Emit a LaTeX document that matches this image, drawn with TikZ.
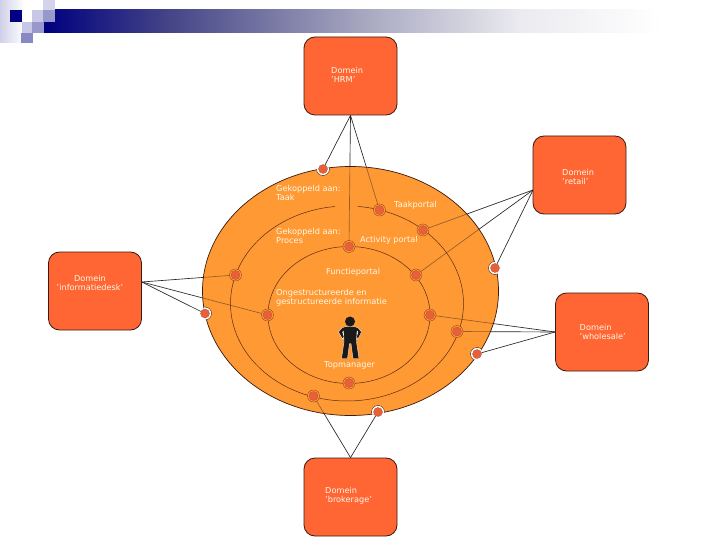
\documentclass[tikz,border=0pt]{standalone}
\usepackage{fontspec}
\setmainfont{DejaVu Sans}
\pgfdeclarelayer{bgl}\pgfdeclarelayer{connl}\pgfdeclarelayer{veill}\pgfdeclarelayer{ringl}
\pgfsetlayers{bgl,connl,veill,ringl,main}
\definecolor{boxred}{HTML}{FF6633}
\definecolor{orangefill}{HTML}{FF9933}
\definecolor{dotred}{HTML}{E8603A}
\definecolor{edgedark}{HTML}{3A1A10}
\definecolor{navyb}{HTML}{000080}
\definecolor{sqA}{HTML}{C8C8E6}
\definecolor{sqB}{HTML}{9898CC}
\definecolor{sqC}{HTML}{8888C4}
\definecolor{txtcream}{HTML}{FFF8E8}
\pgfdeclarehorizontalshading{hdrfade}{100bp}{
  rgb(0bp)=(0,0,0.5); rgb(25bp)=(0,0,0.5);
  rgb(34.3bp)=(0.27,0.27,0.53);
  rgb(48.4bp)=(0.65,0.65,0.75);
  rgb(60.2bp)=(0.92,0.92,0.94);
  rgb(70.6bp)=(1,1,1); rgb(100bp)=(1,1,1)}
\tikzset{
  domainbox/.style={draw=edgedark,line width=0.8pt,fill=boxred,rounded corners=11pt,minimum width=93pt,minimum height=78pt,inner sep=0pt},
  dotnode/.style={circle,fill=dotred,draw=dotred!80!black,line width=0.3pt,minimum size=9pt,inner sep=0pt},
  lbl/.style={text=txtcream,font=\fontsize{8.2}{9}\selectfont,align=left,anchor=north west,inner sep=0pt},
  lblc/.style={lbl,align=center,anchor=north},
  conn/.style={draw=black!85,line width=0.65pt},
  ringline/.style={draw=dotred!60!black,line width=0.35pt},
  orbit/.style={draw=edgedark!85!orangefill,line width=0.5pt}
}
\begin{document}
\begin{tikzpicture}[x=1pt,y=-1pt]
\useasboundingbox (0,0) rectangle (720,540);
% header
\begin{pgfonlayer}{bgl}
\fill[white] (0,0) rectangle (720,540);
\shade[shading=hdrfade] (44,10) rectangle (720,33);
\shade[left color=sqA!85!white,right color=white] (0,0) rectangle (24,43);
\fill[navyb] (10,10) rectangle (22,22);
\fill[sqA!80!white] (43,0) rectangle (55,10);
\fill[sqB] (43,10) rectangle (55,22);
\fill[sqA] (32,10) rectangle (43,22);
\fill[sqA] (22,22) rectangle (32,33);
\fill[sqB] (32,22) rectangle (44,33);
\fill[sqC] (21,33) rectangle (33,43);
% big ellipse
\fill[orangefill] (350.5,291) ellipse [x radius=148,y radius=124.5];
\end{pgfonlayer}
% domain boxes
\node[domainbox] (hrm) at (350.5,76) {};
\node[domainbox] (retail) at (579.5,175) {};
\node[domainbox] (whole) at (602,332) {};
\node[domainbox] (info) at (95,291) {};
\node[domainbox] (brok) at (350.5,497) {};
\coordinate (retailP) at (533,190);
% dots, outer orbit
\node[dotnode] (o1) at (323,169) {};
\node[dotnode] (o2) at (495,268) {};
\node[dotnode] (o3) at (477,354) {};
\node[dotnode] (o4) at (378,412) {};
\node[dotnode] (o5) at (205,313.5) {};
% dots, middle orbit
\node[dotnode] (m1) at (379.5,210) {};
\node[dotnode] (m2) at (423,230) {};
\node[dotnode] (m3) at (457,331.5) {};
\node[dotnode] (m4) at (313.5,396) {};
\node[dotnode] (m5) at (235.5,275) {};
% dots, inner orbit
\node[dotnode] (i1) at (349,246.5) {};
\node[dotnode] (i2) at (416,275) {};
\node[dotnode] (i3) at (430,315) {};
\node[dotnode] (i4) at (349,383) {};
\node[dotnode] (i5) at (267.5,315) {};
% connectors
\begin{pgfonlayer}{connl}
\foreach \d in {o1,m1,i1} \draw[conn] (hrm.south) -- (\d);
\foreach \d in {m2,i2,o2} \draw[conn] (retailP) -- (\d);
\foreach \d in {i3,m3,o3} \draw[conn] (whole.west) -- (\d);
\foreach \d in {m5,i5,o5} \draw[conn] (info.east |- 0,282) -- (\d);
\foreach \d in {m4,o4} \draw[conn] (brok.north) -- (\d);
\end{pgfonlayer}
\begin{pgfonlayer}{veill}
\fill[orangefill,opacity=0.5] (350.5,291) ellipse [x radius=148,y radius=124.5];
\end{pgfonlayer}
\begin{pgfonlayer}{ringl}
% orbits
\draw[orbit] plot[domain=275.4:624,samples=120,smooth] ({347+116.5*cos(\x)},{303.5+97.5*sin(\x)});
\draw[orbit] (349,315) ellipse [x radius=81,y radius=68.5];
\draw[draw=edgedark,line width=0.7pt] (350.5,291) ellipse [x radius=148,y radius=124.5];
% rings
\foreach \d in {m1,m2,m3,m4,m5,i1,i2,i3,i4,i5}
  \draw[ringline,fill=orangefill] (\d) circle (6);
\begin{scope}
\clip (350.5,291) ellipse [x radius=148.4,y radius=124.9];
\foreach \d in {o1,o2,o3,o4,o5}
  \draw[draw=edgedark,line width=0.4pt,fill=white] (\d) circle (6.5);
\end{scope}
% figure
\fill[black!90,draw=txtcream,line width=0.35pt]
  (346.5,326.5) -- (353.5,326.5) .. controls (358,327) and (360,329) .. (361.5,332)
  -- (358,339) -- (356.5,337) -- (358,332) -- (357,331) -- (356.5,342) -- (359,358.5)
  -- (353,358.5) -- (351,343.5) -- (349.5,343.5) -- (347.5,358.5) -- (341.5,358.5)
  -- (344,342) -- (343.5,331) -- (342.5,332) -- (344,337) -- (342.5,339) -- (338.5,332)
  .. controls (340,329) and (342,327) .. (346.5,326.5) -- cycle;
\fill[black!90] (350,321.5) circle (5);
\end{pgfonlayer}
% labels
\node[lbl] (t1) at (331,67) {Domein\\'HRM'};
\node[lbl] (t2) at (562,169) {Domein\\'retail'};
\node[lbl] (t3) at (579.5,324) {Domein\\'wholesale'};
\node[lblc] (t4) at (90,275.5) {Domein\\'informatiedesk'};
\node[lbl] (t5) at (325,487) {Domein\\'brokerage'};
\node[lbl] (t6) at (276,185.5) {Gekoppeld aan:\\Taak};
\node[lbl] (t7) at (276,228) {Gekoppeld aan:\\Proces};
\node[lbl] (t8) at (394,201) {Taakportal};
\node[lbl] (t9) at (360,236) {Activity portal};
\node[lbl] (t10) at (326,268) {Functieportal};
\node[lbl] (t11) at (276,289) {Ongestructureerde en\\gestructureerde informatie};
\node[lbl] (t12) at (324,361.5) {Topmanager};
\end{tikzpicture}
\end{document}
